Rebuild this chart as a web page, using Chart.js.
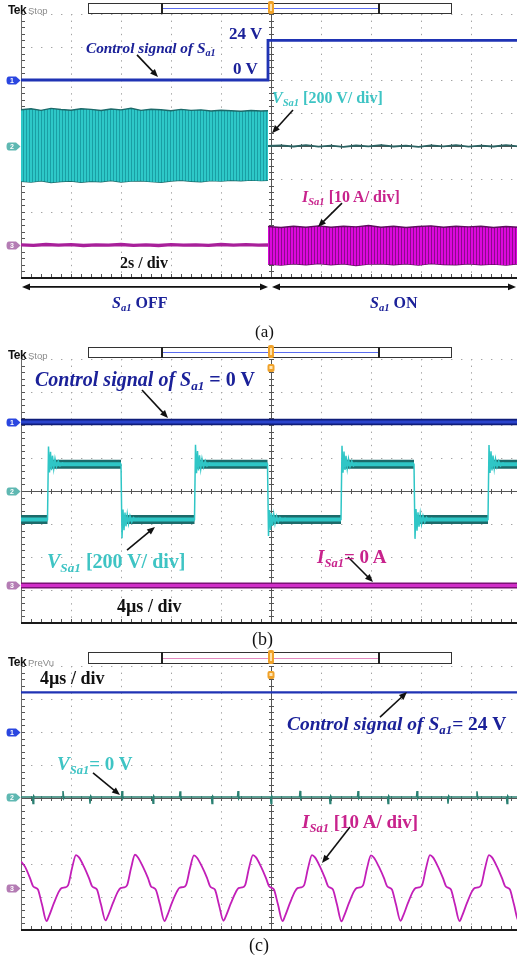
<!DOCTYPE html>
<html>
<head>
<meta charset="utf-8">
<title>Sa1 waveforms</title>
<script src="https://cdn.jsdelivr.net/npm/chart.js@4.4.1/dist/chart.umd.min.js"></script>
<style>
  html, body { margin:0; padding:0; background:#fff; width:517px; height:962px; overflow:hidden; }
  #wrap { position:relative; width:517px; height:962px; overflow:hidden; }
  canvas { position:absolute; left:0; }
  .t { position:absolute; white-space:nowrap; line-height:1; font-family:"Liberation Serif","Times New Roman",serif; font-weight:bold; }
  .t sub { font-size:0.66em; line-height:0; vertical-align:-0.3em; }
  .b { color:#1b2199; } .c { color:#3ec4c4; } .m { color:#c8228c; } .k { color:#111; }
  .cap { font-weight:normal; color:#111; }
  .tek { position:absolute; line-height:1; font-family:"Liberation Sans",Arial,sans-serif; white-space:nowrap; }
  .tek b { font-size:12px; color:#111; letter-spacing:-0.6px; }
  .tek span { font-size:9.5px; color:#8a8a8a; margin-left:2px; }
</style>
</head>
<body>
<div id="wrap">
<canvas id="ca" width="530" height="300" style="top:0px;width:530px;height:300px"></canvas>
<canvas id="cb" width="530" height="290" style="top:340px;width:530px;height:290px"></canvas>
<canvas id="cc" width="530" height="290" style="top:648px;width:530px;height:290px"></canvas>

<div class="tek" style="left:8px;top:1px"><b>Tek</b><span>Stop</span></div>
<div class="tek" style="left:8px;top:346px"><b>Tek</b><span>Stop</span></div>
<div class="tek" style="left:8px;top:653px"><b>Tek</b><span>PreVu</span></div>

<!-- panel (a) -->
<div class="t b" style="left:229px;top:25px;font-size:17px">24 V</div>
<div class="t b" style="left:233px;top:60px;font-size:17px">0 V</div>
<div class="t b" style="left:86px;top:40px;font-size:15.3px"><i>Control signal of S<sub>a1</sub></i></div>
<div class="t c" style="left:272px;top:90px;font-size:16px"><i>V<sub>Sa1</sub></i> [200 V/ div]</div>
<div class="t m" style="left:302px;top:189px;font-size:16px"><i>I<sub>Sa1</sub></i> [10 A/ div]</div>
<div class="t k" style="left:120px;top:255px;font-size:16px">2s / div</div>
<div class="t b" style="left:112px;top:295px;font-size:16px"><i>S<sub>a1</sub></i> OFF</div>
<div class="t b" style="left:370px;top:295px;font-size:16px"><i>S<sub>a1</sub></i> ON</div>
<div class="t cap" style="left:255px;top:323px;font-size:17px">(a)</div>

<!-- panel (b) -->
<div class="t b" style="left:35px;top:369px;font-size:20px"><i>Control signal of S<sub>a1</sub></i> = 0 V</div>
<div class="t c" style="left:47px;top:551px;font-size:20px"><i>V<sub>Sa1</sub></i> [200 V/ div]</div>
<div class="t m" style="left:317px;top:547px;font-size:19px"><i>I<sub>Sa1</sub></i>= 0 A</div>
<div class="t k" style="left:117px;top:597px;font-size:18px">4µs / div</div>
<div class="t cap" style="left:252px;top:630px;font-size:18px">(b)</div>

<!-- panel (c) -->
<div class="t k" style="left:40px;top:669px;font-size:18px">4µs / div</div>
<div class="t b" style="left:287px;top:714px;font-size:19.5px"><i>Control signal of S<sub>a1</sub></i>= 24 V</div>
<div class="t c" style="left:57px;top:754px;font-size:19px"><i>V<sub>Sa1</sub></i>= 0 V</div>
<div class="t m" style="left:302px;top:812px;font-size:19px"><i>I<sub>Sa1</sub></i> [10 A/ div]</div>
<div class="t cap" style="left:249px;top:936px;font-size:18px">(c)</div>
</div>

<script>
// ===================== DATA =====================
// channel sensitivities: ch1 control (V/div), ch2 VSa1 (V/div), ch3 ISa1 (A/div)
const CH_PER_DIV = [20, 200, 10];

// ---------- panel (a) : 2 s / div, time in s ----------
const A_XMAX = 20;
const A_OFFSET = [2, 0, -3];               // channel ground positions, in divisions
const a_ctrl_t = [0, 9.88, 9.88, 20];
const a_ctrl_v = [0, 0, 24, 24];
const a_vOff_t  = [0,0.4,0.8,1.2,1.6,2.0,2.4,2.8,3.2,3.6,4.0,4.4,4.8,5.2,5.6,6.0,6.4,6.8,7.2,7.6,8.0,8.4,8.8,9.2,9.6,9.88];
const a_vOff_hi = [220,226,216,228,221,217,226,222,215,224,219,229,216,223,220,214,222,216,219,212,217,214,211,215,212,214];
const a_vOff_lo = [-214,-219,-211,-221,-215,-212,-220,-214,-217,-209,-218,-213,-211,-216,-220,-212,-208,-214,-217,-210,-213,-208,-211,-207,-210,-208];
const a_vOn_t = [9.88,10.4,10.9,11.4,11.9,12.4,12.9,13.4,13.9,14.4,14.9,15.4,15.9,16.4,16.9,17.4,17.9,18.4,18.9,19.4,19.9,20];
const a_vOn_v = [0,4,-3,5,-4,2,-5,3,-2,5,-3,2,-5,4,-2,5,-4,2,-3,5,-2,0];
const a_iOff_t = [0,0.5,1.0,1.5,2.0,2.5,3.0,3.5,4.0,4.5,5.0,5.5,6.0,6.5,7.0,7.5,8.0,8.5,9.0,9.5,9.88];
const a_iOff_v = [0.05,-0.1,0.15,-0.05,0.1,-0.15,0.05,-0.05,0.15,-0.1,0.05,-0.15,0.1,-0.05,0.05,-0.1,0.15,-0.05,0.1,-0.05,0];
const a_iOn_t  = [9.88,10.4,10.9,11.4,11.9,12.4,12.9,13.4,13.9,14.4,14.9,15.4,15.9,16.4,16.9,17.4,17.9,18.4,18.9,19.4,19.9,20];
const a_iOn_hi = [5.6,5.3,5.7,5.4,5.8,5.4,5.7,5.5,5.9,5.4,5.7,5.3,5.6,5.8,5.4,5.7,5.5,5.7,5.3,5.6,5.4,5.6];
const a_iOn_lo = [-5.8,-6.1,-5.7,-6.0,-5.6,-6.0,-5.7,-6.2,-5.8,-5.7,-6.0,-5.7,-6.1,-5.6,-5.9,-6.0,-5.7,-6.0,-5.8,-6.1,-5.7,-5.9];

// ---------- panel (b) : 4 µs / div, time in µs, Sa1 off ----------
const B_XMAX = 40;
const B_OFFSET = [2.09, 0, -2.86];
const b_ctrl_t = [0, 40];
const b_ctrl_v = [0, 0];
const b_isa_t = [0, 40];
const b_isa_v = [0, 0];
const b_v_t = [0,
  2.12,2.20,2.28,2.36,2.44,2.52,2.62,2.72,2.84,2.98,3.12,3.32,3.52,3.82,8.00,
  8.08,8.16,8.24,8.32,8.40,8.50,8.60,8.72,8.86,9.00,9.20,9.40,9.70,13.88,
  13.96,14.04,14.12,14.20,14.28,14.38,14.48,14.60,14.74,14.88,15.08,15.28,15.58,19.72,
  19.80,19.88,19.96,20.04,20.12,20.22,20.32,20.44,20.58,20.72,20.92,21.12,21.42,25.60,
  25.68,25.76,25.84,25.92,26.00,26.10,26.20,26.32,26.46,26.60,26.80,27.00,27.30,31.44,
  31.52,31.60,31.68,31.76,31.84,31.94,32.04,32.16,32.30,32.44,32.64,32.84,33.14,37.36,
  37.44,37.52,37.60,37.68,37.76,37.86,37.96,38.08,38.22,38.36,38.56,38.76,39.06,40];
const b_v_v = [-172,
  -172,270,112,238,126,214,136,196,146,181,153,169,158,164,162,
  -286,-112,-238,-131,-214,-141,-199,-151,-189,-161,-177,-167,-173,-172,
  280,108,242,124,216,134,194,145,183,152,170,158,164,162,
  -272,-115,-236,-133,-212,-142,-198,-152,-188,-160,-178,-166,-173,-172,
  274,111,239,127,213,136,195,146,181,153,169,159,163,162,
  -290,-109,-241,-129,-216,-139,-201,-150,-190,-159,-178,-166,-172,-172,
  278,110,240,125,215,135,195,145,182,152,170,158,164,162];
const B_HIGH = 162, B_LOW = -172;          // plateau levels (V)
const b_hiStart = [2.30, 14.06, 25.78, 37.54];
const b_hiEnd   = [8.00, 19.72, 31.44, 40.00];
const b_loStart = [0.00, 8.18, 19.90, 31.62];
const b_loEnd   = [2.12, 13.88, 25.60, 37.36];

// ---------- panel (c) : 4 µs / div, time in µs, Sa1 on ----------
const C_XMAX = 40;
const C_OFFSET = [2, 0.03, -2.73];
const c_ctrl_t = [0, 40];
const c_ctrl_v = [24, 24];
const c_v_t = [0,
  0.92,0.96,1.02,1.08, 3.32,3.36,3.42,3.48, 5.48,5.52,5.58,5.64, 8.04,8.08,8.14,8.20,
  10.52,10.56,10.62,10.68, 12.68,12.72,12.78,12.84, 15.24,15.28,15.34,15.40, 17.32,17.36,17.42,17.48,
  19.96,20.00,20.06,20.12, 22.28,22.32,22.38,22.44, 24.68,24.72,24.78,24.84, 26.92,26.96,27.02,27.08,
  29.32,29.36,29.42,29.48, 31.64,31.68,31.74,31.80, 34.12,34.16,34.22,34.28, 36.44,36.48,36.54,36.60,
  38.84,38.88,38.94,39.00, 40];
const c_v_v = [0,
  0,-40,6,0, 0,36,-8,0, 0,-40,6,0, 0,36,-8,0,
  0,-38,6,0, 0,35,-8,0, 0,-40,5,0, 0,36,-8,0,
  0,-40,6,0, 0,37,-8,0, 0,-40,6,0, 0,36,-7,0,
  0,-39,6,0, 0,36,-8,0, 0,-40,6,0, 0,35,-8,0,
  0,-40,6,0, 0];
const c_i_t = [0,0.32,0.72,0.96,1.16,1.36,1.68,2.04,2.24,2.64,3.04,3.24,3.52,3.76,4.08,
  4.40,4.64,5.04,5.44,5.68,5.88,6.08,6.40,6.76,6.96,7.36,7.76,7.96,8.24,8.48,8.80,
  9.12,9.36,9.76,10.16,10.40,10.60,10.80,11.12,11.48,11.68,12.08,12.48,12.68,12.96,13.20,13.52,
  13.84,14.08,14.48,14.88,15.12,15.32,15.52,15.84,16.20,16.40,16.80,17.20,17.40,17.68,17.92,18.24,
  18.56,18.80,19.20,19.60,19.84,20.04,20.24,20.56,20.92,21.12,21.52,21.92,22.12,22.40,22.64,22.96,
  23.28,23.52,23.92,24.32,24.56,24.76,24.96,25.28,25.64,25.84,26.24,26.64,26.84,27.12,27.36,27.68,
  28.00,28.24,28.64,29.04,29.28,29.48,29.68,30.00,30.36,30.56,30.96,31.36,31.56,31.84,32.08,32.40,
  32.72,32.96,33.36,33.76,34.00,34.20,34.40,34.72,35.08,35.28,35.68,36.08,36.28,36.56,36.80,37.12,
  37.44,37.68,38.08,38.48,38.72,38.92,39.12,39.44,39.80,40.00];
const c_i_v = [8,6.5,3,0.6,0.1,-0.5,-5,-10,-8.5,-4.5,-1,0,0.2,0.8,6,
  10,9.3,6.5,3,0.6,0.1,-0.5,-5,-9.8,-8.4,-4.5,-1,0,0.2,0.8,6,
  10.1,9.3,6.4,3,0.5,0.1,-0.6,-5,-10,-8.5,-4.4,-1,0.1,0.3,0.9,6,
  9.9,9.2,6.5,3.1,0.6,0,-0.5,-5.1,-9.9,-8.4,-4.5,-1.1,0,0.2,0.8,6.1,
  10,9.3,6.5,3,0.6,0.1,-0.5,-5,-10,-8.5,-4.5,-1,0,0.2,0.8,6,
  10,9.3,6.5,3,0.6,0.1,-0.5,-5,-10.1,-8.5,-4.5,-1,0,0.2,0.8,6,
  9.9,9.2,6.4,3,0.6,0.1,-0.5,-5,-9.9,-8.5,-4.5,-1,0,0.2,0.8,6,
  10,9.3,6.5,3,0.6,0.1,-0.5,-5,-10,-8.5,-4.5,-1,0,0.2,0.8,6,
  10,9.3,6.5,3,0.6,0.1,-0.5,-5,-10,-8.5];

// ===================== HELPERS =====================
const pts = (t, v) => t.map((x, i) => ({x, y: v[i]}));
const bandPts = (s, e, level) => {
  const out = [];
  s.forEach((x0, i) => {
    out.push({x: x0, y: level}, {x: e[i], y: level});
    if (i < s.length - 1) out.push({x: (e[i] + s[i + 1]) / 2, y: null});
  });
  return out;
};
function stripes(c1, c2) {
  const cv = document.createElement('canvas'); cv.width = 3; cv.height = 2;
  const g = cv.getContext('2d');
  g.fillStyle = c1; g.fillRect(0, 0, 3, 2);
  g.fillStyle = c2; g.fillRect(2, 0, 1, 2);
  return g.createPattern(cv, 'repeat');
}
const line = (data, axis, color, width, order, extra) =>
  Object.assign({data, yAxisID: axis, borderColor: color, borderWidth: width, order,
    pointRadius: 0, fill: false, tension: 0, spanGaps: false, borderCapStyle: 'butt'}, extra || {});

// annotation layout (arrows in [time, division] coordinates)
const EXTRAS = {
  ca: {offs: A_OFFSET, bar: [3, 13], barLine: '#5a6cf0', trig2: false,
       arrows: [[4.64, 2.76, 5.48, 2.09], [10.88, 1.09, 10.04, 0.39], [12.84, -1.73, 11.88, -2.45]],
       spans: [[0.04, 9.88, -4.27], [10.04, 19.8, -4.27]]},
  cb: {offs: B_OFFSET, bar: [7, 17], barLine: '#5a6cf0', trig2: true,
       arrows: [[9.68, 3.06, 11.76, 2.21], [8.48, -1.79, 10.72, -1.09], [26.16, -2.0, 28.16, -2.76]], spans: []},
  cc: {offs: C_OFFSET, bar: [4, 15], barLine: '#e58ac0', trig2: true,
       arrows: [[28.72, 2.45, 30.88, 3.21], [5.76, 0.76, 7.92, 0.09], [26.32, -0.88, 24.08, -1.97]], spans: []}
};
const TAG_COLORS = ['#2a46e0', '#5fb8b2', '#b47cb4'];

function drawArrow(ctx, x1, y1, x2, y2, both) {
  const ang = Math.atan2(y2 - y1, x2 - x1), L = 8, W = 3.3;
  const head = (x, y, a) => {
    ctx.beginPath();
    ctx.moveTo(x, y);
    ctx.lineTo(x - L * Math.cos(a) + W * Math.sin(a), y - L * Math.sin(a) - W * Math.cos(a));
    ctx.lineTo(x - L * Math.cos(a) - W * Math.sin(a), y - L * Math.sin(a) + W * Math.cos(a));
    ctx.closePath(); ctx.fill();
  };
  ctx.beginPath();
  ctx.moveTo(both ? x1 + Math.cos(ang) * 5 : x1, both ? y1 + Math.sin(ang) * 5 : y1);
  ctx.lineTo(x2 - Math.cos(ang) * 5, y2 - Math.sin(ang) * 5);
  ctx.stroke();
  head(x2, y2, ang);
  if (both) head(x1, y1, ang + Math.PI);
}

const scopePlugin = {
  id: 'scope',
  beforeDatasetsDraw(chart) {
    const {ctx, chartArea: a} = chart, x = chart.scales.x, y = chart.scales.yg;
    const seg = (x1, y1, x2, y2) => { ctx.beginPath(); ctx.moveTo(x1, y1); ctx.lineTo(x2, y2); ctx.stroke(); };
    ctx.save();
    ctx.strokeStyle = '#555'; ctx.lineWidth = 1;
    const cx = Math.round(x.getPixelForValue(x.max / 2)) + 0.5;
    const cy = Math.round(y.getPixelForValue(0)) + 0.5;
    seg(a.left, cy, a.right, cy); seg(cx, a.top, cx, a.bottom);
    for (let k = 0; k <= 50; k++) {
      const px = Math.round(x.getPixelForValue(x.max * k / 50)) + 0.5;
      seg(px, cy - 2.5, px, cy + 2.5);
      seg(px, a.bottom - 4, px, a.bottom);
    }
    for (let k = 0; k <= 40; k++) {
      const py = Math.round(y.getPixelForValue(-4 + k * 0.2)) + 0.5;
      seg(cx - 2.5, py, cx + 2.5, py);
      seg(a.left, py, a.left + 4, py);
    }
    ctx.strokeStyle = '#6a6a6a';
    seg(Math.round(a.left) + 0.5, a.top, Math.round(a.left) + 0.5, a.bottom);
    ctx.strokeStyle = '#1a1a1a'; ctx.lineWidth = 2;
    seg(a.left, Math.round(a.bottom), a.right, Math.round(a.bottom));
    ctx.restore();
  },
  afterDraw(chart) {
    const ex = EXTRAS[chart.canvas.id];
    const {ctx, chartArea: a} = chart, x = chart.scales.x, y = chart.scales.yg;
    ctx.save();
    // record-length bar
    const [bt, bb] = ex.bar, bm = Math.round((bt + bb) / 2) + 0.5;
    ctx.strokeStyle = '#333'; ctx.lineWidth = 1;
    ctx.strokeRect(88.5, bt + 0.5, 363, bb - bt);
    ctx.strokeStyle = ex.barLine; ctx.lineWidth = 1;
    ctx.beginPath(); ctx.moveTo(163, bm); ctx.lineTo(379, bm); ctx.stroke();
    ctx.strokeStyle = '#222'; ctx.lineWidth = 2;
    ctx.beginPath(); ctx.moveTo(162, bt); ctx.lineTo(162, bb + 1); ctx.moveTo(379, bt); ctx.lineTo(379, bb + 1); ctx.stroke();
    // trigger markers
    const cx = x.getPixelForValue(x.max / 2);
    ctx.fillStyle = '#f0a22a';
    ctx.beginPath(); ctx.roundRect(cx - 3, bt - 2, 6, bb - bt + 3, 2); ctx.fill();
    ctx.fillStyle = '#ffe1a8'; ctx.fillRect(cx - 1, bt + 1, 2, bb - bt - 3);
    if (ex.trig2) {
      ctx.fillStyle = '#f0a22a';
      ctx.beginPath(); ctx.roundRect(cx - 3.5, a.top + 5, 7, 8, 2); ctx.fill();
      ctx.fillStyle = '#ffe7b8'; ctx.fillRect(cx - 1.5, a.top + 7, 3, 3);
    }
    // channel tags
    ex.offs.forEach((o, i) => {
      const py = Math.round(y.getPixelForValue(o)) + 0.5;
      ctx.fillStyle = TAG_COLORS[i];
      ctx.beginPath();
      ctx.moveTo(9, py - 4); ctx.lineTo(16, py - 4); ctx.lineTo(20.5, py); ctx.lineTo(16, py + 4); ctx.lineTo(9, py + 4);
      ctx.quadraticCurveTo(6.5, py + 4, 6.5, py); ctx.quadraticCurveTo(6.5, py - 4, 9, py - 4);
      ctx.fill();
      ctx.fillStyle = '#fff'; ctx.font = 'bold 7px "Liberation Sans", Arial, sans-serif';
      ctx.textAlign = 'center'; ctx.textBaseline = 'middle';
      ctx.fillText(String(i + 1), 12, py + 0.5);
    });
    // annotation arrows
    ctx.strokeStyle = '#111'; ctx.fillStyle = '#111'; ctx.lineWidth = 1.6;
    ex.arrows.forEach(([t1, d1, t2, d2]) =>
      drawArrow(ctx, x.getPixelForValue(t1), y.getPixelForValue(d1), x.getPixelForValue(t2), y.getPixelForValue(d2), false));
    ctx.lineWidth = 1.8;
    ex.spans.forEach(([t1, t2, d]) =>
      drawArrow(ctx, x.getPixelForValue(t1), y.getPixelForValue(d), x.getPixelForValue(t2), y.getPixelForValue(d), true));
    ctx.restore();
  }
};

function scopeChart(id, xmax, offs, padding, datasets) {
  const dotX = c => (c.tick && Math.abs(c.tick.value - xmax / 2) < 1e-6) ? 'rgba(0,0,0,0)' : '#a4a4a4';
  const dotY = c => (c.tick && Math.abs(c.tick.value) < 1e-6) ? 'rgba(0,0,0,0)' : '#a4a4a4';
  const scales = {
    x: {type: 'linear', min: 0, max: xmax, ticks: {display: false, stepSize: xmax / 10},
        grid: {color: dotX, lineWidth: 1, drawTicks: false}, border: {display: false, dash: [1.4, 5.2]},
        afterFit: s => { s.height = 0; }},
    yg: {type: 'linear', position: 'left', min: -4, max: 4, ticks: {display: false, stepSize: 1},
         grid: {color: dotY, lineWidth: 1, drawTicks: false}, border: {display: false, dash: [1.4, 8.6]},
         afterFit: s => { s.width = 0; }}
  };
  CH_PER_DIV.forEach((d, i) => {
    scales['y' + (i + 1)] = {type: 'linear', display: false, min: (-4 - offs[i]) * d, max: (4 - offs[i]) * d};
  });
  return new Chart(document.getElementById(id), {
    type: 'line',
    data: {datasets},
    options: {
      responsive: false, animation: false, events: [], parsing: true,
      layout: {padding},
      plugins: {legend: {display: false}, tooltip: {enabled: false}},
      scales
    },
    plugins: [scopePlugin]
  });
}

const CYAN = '#2fc6c6', TEAL_DARK = '#1c6a6a', BLUE = '#1f33b4', MAG = '#c21fb8';

// ----- panel (a)
scopeChart('ca', A_XMAX, A_OFFSET, {left: 21, right: 9, top: 14, bottom: 22}, [
  line(pts(a_ctrl_t, a_ctrl_v), 'y1', BLUE, 2.8, 1),
  line(pts(a_vOff_t, a_vOff_hi), 'y2', TEAL_DARK, 1.4, 3, {fill: '+1', backgroundColor: stripes('#2ec8c8', '#1a9ea4')}),
  line(pts(a_vOff_t, a_vOff_lo), 'y2', TEAL_DARK, 1.4, 3),
  line(pts(a_vOn_t, a_vOn_v), 'y2', '#2b6262', 1.8, 2),
  line(pts(a_iOff_t, a_iOff_v), 'y3', '#a8209a', 3.4, 2),
  line(pts(a_iOn_t, a_iOn_hi), 'y3', '#5e0e5e', 1.4, 3, {fill: '+1', backgroundColor: stripes('#dc08dc', '#8c0a8c')}),
  line(pts(a_iOn_t, a_iOn_lo), 'y3', '#5e0e5e', 1.4, 3)
]);

// ----- panel (b)
scopeChart('cb', B_XMAX, B_OFFSET, {left: 21, right: 9, top: 19, bottom: 7}, [
  line(pts(b_ctrl_t, b_ctrl_v), 'y1', '#2a44cc', 3, 1),
  line(pts(b_ctrl_t, b_ctrl_v), 'y1', '#0e1c7a', 6.5, 2),
  line(pts(b_v_t, b_v_v), 'y2', CYAN, 1.5, 3),
  line(bandPts(b_hiStart, b_hiEnd, B_HIGH), 'y2', CYAN, 4, 4),
  line(bandPts(b_loStart, b_loEnd, B_LOW), 'y2', CYAN, 4, 4),
  line(bandPts(b_hiStart, b_hiEnd, B_HIGH), 'y2', TEAL_DARK, 9, 5),
  line(bandPts(b_loStart, b_loEnd, B_LOW), 'y2', TEAL_DARK, 9, 5),
  line(pts(b_isa_t, b_isa_v), 'y3', '#d12ec8', 3, 1),
  line(pts(b_isa_t, b_isa_v), 'y3', '#7c1276', 6, 2)
]);

// ----- panel (c)
scopeChart('cc', C_XMAX, C_OFFSET, {left: 21, right: 9, top: 18, bottom: 8}, [
  line(pts(c_ctrl_t, c_ctrl_v), 'y1', BLUE, 2.2, 1),
  line(pts(c_v_t, c_v_v), 'y2', '#2a8072', 1.5, 2),
  line(pts(c_i_t, c_i_v), 'y3', MAG, 1.8, 1, {cubicInterpolationMode: 'monotone'})
]);
</script>
</body>
</html>
